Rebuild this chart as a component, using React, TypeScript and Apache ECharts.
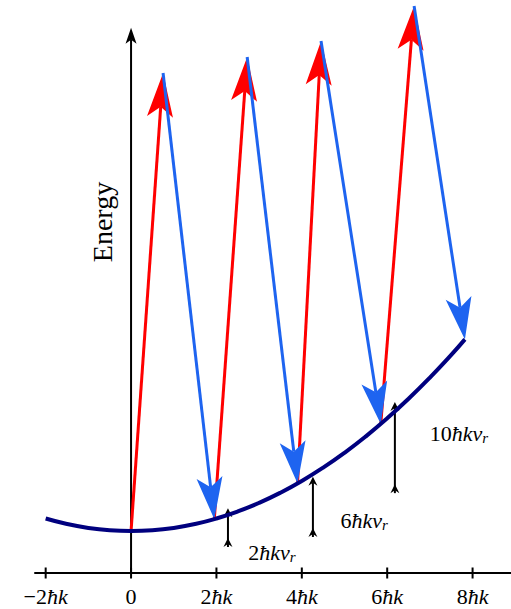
import React, { useEffect, useRef } from 'react';
import * as echarts from 'echarts';

// Axis ticks (momentum in units of ħk)
const xTickValues = [-2, 0, 2, 4, 6, 8];
const xTickLabels = ['−2ħk', '0', '2ħk', '4ħk', '6ħk', '8ħk'];

// Dispersion curve (momentum, energy)
const parabolaP = [-2, -1.5, -1, -0.5, 0, 0.5, 1, 1.5, 2, 2.5, 3, 3.5, 4, 4.5, 5, 5.5, 6, 6.5, 7, 7.5, 7.82];
const parabolaE = [4, 2.25, 1, 0.25, 0, 0.25, 1, 2.25, 4, 6.25, 9, 12.25, 16, 20.25, 25, 30.25, 36, 42.25, 49, 56.25, 61.2];

// Points on the curve where transitions start / end
const groundP = [0, 1.95, 3.9, 5.85, 7.82];
const groundE = [0, 3.8, 15.2, 34.2, 61.2];
// Tips of the absorption (red) arrows
const peakP = [0.75, 2.72, 4.45, 6.63];
const peakE = [146.3, 151.4, 156.5, 167.7];

// Recoil-energy markers
const recoilP = [2.27, 4.26, 6.18];
const recoilLow = [-5.1, -1.9, 12.1];
const recoilHigh = [7.3, 17.3, 41.2];
const recoilLabels = ['2ħkv_r', '6ħkv_r', '10ħkv_r'];

// Layout
const X_MIN = -2.25;
const X_MAX = 8.9;
const Y_MIN = -13.4;
const Y_MAX = 169.6;
const Y_AXIS_TOP = 160.7;
const labelAnchorP = [3.3, 5.46, 7.68];
const labelAnchorE = [-7.0, 3.5, 31.3];

const FONT = '"Liberation Serif", "Times New Roman", serif';
const RED = '#ff0000';
const BLUE = '#1e64f0';
const NAVY = '#00007f';

function arrowParts(x1: number, y1: number, x2: number, y2: number, L: number, W: number, N: number, color: string, lw: number) {
  const dx = x2 - x1, dy = y2 - y1;
  const len = Math.hypot(dx, dy) || 1;
  const ux = dx / len, uy = dy / len;
  const nx = -uy, ny = ux;
  const bx = x2 - ux * L, by = y2 - uy * L;
  const kx = x2 - ux * (L - N), ky = y2 - uy * (L - N);
  return [
    { type: 'line', shape: { x1, y1, x2: kx, y2: ky }, style: { stroke: color, lineWidth: lw } },
    {
      type: 'polygon',
      shape: { points: [[x2, y2], [bx + nx * W, by + ny * W], [kx, ky], [bx - nx * W, by - ny * W]] },
      style: { fill: color },
    },
  ];
}

function arrowSeries(data: number[][], color: string, L: number, W: number, N: number, lw: number) {
  return {
    type: 'custom',
    coordinateSystem: 'cartesian2d',
    silent: true,
    clip: false,
    data,
    encode: { x: [0, 2], y: [1, 3] },
    renderItem: (_p: any, api: any) => {
      const a = api.coord([api.value(0), api.value(1)]);
      const b = api.coord([api.value(2), api.value(3)]);
      return { type: 'group', children: arrowParts(a[0], a[1], b[0], b[1], L, W, N, color, lw) };
    },
  };
}

function tickRich(label: string) {
  const m = label.match(/^([−\-]?\d+)(.*)$/);
  if (!m) return `{i|${label}}`;
  return `{n|${m[1]}}` + (m[2] ? `{i|${m[2]}}` : '');
}

function annotRich(label: string) {
  const m = label.match(/^(\d+)([^_]*)_?(.*)$/);
  if (!m) return label;
  return `{n|${m[1]}}{i|${m[2]}}` + (m[3] ? `{s|${m[3]}}` : '');
}

export default function App() {
  const ref = useRef<HTMLDivElement>(null);
  useEffect(() => {
    if (!ref.current) return;
    const chart = echarts.init(ref.current, undefined, { renderer: 'svg' });

    const redData = peakP.map((p, i) => [groundP[i], groundE[i], p, peakE[i]]);
    const blueData = peakP.map((p, i) => [p, peakE[i], groundP[i + 1], groundE[i + 1]]);

    const richBase = {
      n: { fontFamily: FONT, fontSize: 22, color: '#000' },
      i: { fontFamily: FONT, fontSize: 22, fontStyle: 'italic', color: '#000' },
    };

    chart.setOption({
      animation: false,
      backgroundColor: '#fff',
      grid: { left: 35, right: 0, top: 0, bottom: 36, containLabel: false },
      xAxis: {
        type: 'value',
        min: X_MIN,
        max: X_MAX,
        splitLine: { show: false },
        axisLine: { show: true, onZero: false, lineStyle: { color: '#000', width: 2 } },
        axisTick: { show: false },
        axisLabel: {
          customValues: xTickValues,
          margin: 12,
          formatter: (v: number) => {
            const idx = xTickValues.indexOf(Math.round(v * 1000) / 1000);
            return idx >= 0 ? tickRich(xTickLabels[idx]) : '';
          },
          rich: richBase,
        },
      },
      yAxis: {
        type: 'value',
        min: Y_MIN,
        max: Y_MAX,
        show: false,
        splitLine: { show: false },
      },
      graphic: [
        {
          type: 'text',
          x: 102,
          y: 222,
          rotation: Math.PI / 2,
          style: {
            text: 'Energy',
            fontFamily: FONT,
            fontSize: 28,
            fill: '#000',
            align: 'center',
            verticalAlign: 'middle',
          },
        },
      ],
      series: [
        // x ticks crossing the axis line
        {
          type: 'custom',
          coordinateSystem: 'cartesian2d',
          silent: true,
          clip: false,
          data: xTickValues.map((v) => [v, Y_MIN]),
          renderItem: (_p: any, api: any) => {
            const c = api.coord([api.value(0), api.value(1)]);
            return {
              type: 'line',
              shape: { x1: c[0], y1: c[1] - 5.5, x2: c[0], y2: c[1] + 5.5 },
              style: { stroke: '#000', lineWidth: 2 },
            };
          },
        },
        // vertical energy axis with arrow
        arrowSeries([[0, Y_MIN, 0, Y_AXIS_TOP]], '#000', 16, 5.5, 4, 2),
        {
          type: 'line',
          data: parabolaP.map((p, i) => [p, parabolaE[i]]),
          showSymbol: false,
          smooth: true,
          silent: true,
          lineStyle: { color: NAVY, width: 4 },
        },
        arrowSeries(redData, RED, 44, 13, 10, 3),
        arrowSeries(blueData, BLUE, 42, 13, 10, 3),
        // recoil markers
        {
          type: 'custom',
          coordinateSystem: 'cartesian2d',
          silent: true,
          clip: false,
          data: recoilP.map((p, i) => [p, recoilLow[i], recoilHigh[i]]),
          renderItem: (_p: any, api: any) => {
            const lo = api.coord([api.value(0), api.value(1)]);
            const hi = api.coord([api.value(0), api.value(2)]);
            const x = lo[0];
            const L = 9, W = 4.5, N = 3;
            return {
              type: 'group',
              children: [
                ...arrowParts(x, lo[1], x, hi[1], L, W, N, '#000', 2),
                {
                  type: 'polygon',
                  shape: {
                    points: [[x, lo[1] - L], [x - W, lo[1]], [x, lo[1] - N], [x + W, lo[1]]],
                  },
                  style: { fill: '#000' },
                },
              ],
            };
          },
        },
        // recoil labels
        {
          type: 'custom',
          coordinateSystem: 'cartesian2d',
          silent: true,
          clip: false,
          data: labelAnchorP.map((p, i) => [p, labelAnchorE[i], i]),
          renderItem: (_p: any, api: any) => {
            const c = api.coord([api.value(0), api.value(1)]);
            const idx = api.value(2);
            return {
              type: 'text',
              x: c[0],
              y: c[1],
              style: {
                text: annotRich(recoilLabels[idx]),
                align: 'center',
                verticalAlign: 'middle',
                rich: {
                  n: { fontFamily: FONT, fontSize: 22, lineHeight: 24, fill: '#000' },
                  i: { fontFamily: FONT, fontSize: 22, lineHeight: 24, fontStyle: 'italic', fill: '#000' },
                  s: { fontFamily: FONT, fontSize: 15, lineHeight: 10, fontStyle: 'italic', verticalAlign: 'bottom', fill: '#000' },
                },
              },
            };
          },
        },
      ],
    });
    return () => chart.dispose();
  }, []);

  return (
    <div
      ref={ref}
      style={{ position: 'fixed', left: 0, top: 0, width: 511, height: 609, background: '#fff' }}
    />
  );
}
